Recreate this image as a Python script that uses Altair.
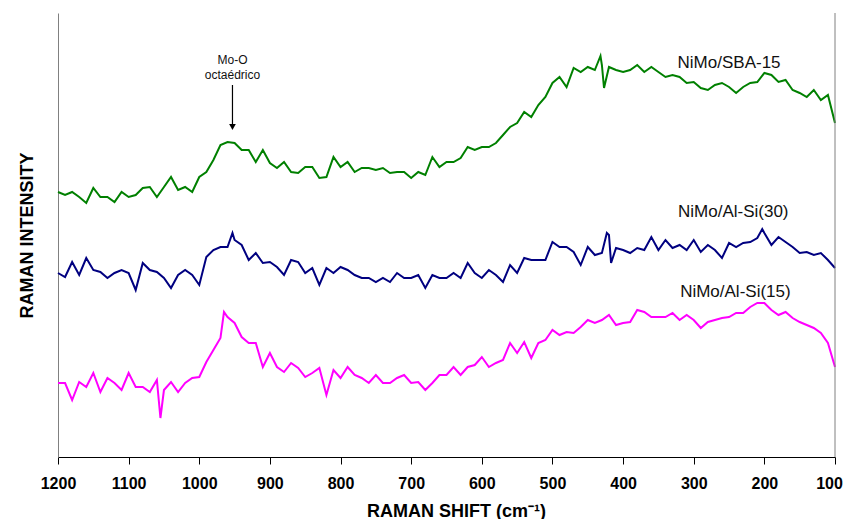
import altair as alt
import pandas as pd

# Raman shift positions (cm-1), every 10 from 1200 down to 100
shift = list(range(1200, 99, -10))

sba15 = [266, 263, 266, 261, 255, 270, 261, 261, 256, 266,
         261, 263, 270, 271, 261, 271, 281, 268, 271, 266,
         281, 286, 298, 313, 316, 315, 308, 308, 296, 308,
         295, 290, 296, 286, 285, 291, 291, 280, 281, 301,
         291, 296, 286, 290, 290, 288, 290, 285, 286, 286,
         280, 286, 283, 301, 291, 296, 296,
         300, 311, 308, 311, 311, 315, 323, 331, 335, 346,
         341, 353, 361, 375, 381, 371, 390, 386, 391, 388,
         393, 391, 388, 386, 388, 393, 386, 391, 386, 381,
         383, 381, 375, 376, 370, 368, 373, 375, 371, 365,
         371, 375, 376, 385, 383, 376, 378, 368, 365, 361,
         368, 358, 363, 335]

alsi30 = [185, 181, 196, 183, 200, 188, 186, 180, 185, 188,
          185, 168, 195, 188, 186, 180, 170, 183, 188, 183,
          173, 201, 208, 211, 211, 218, 213, 198, 205, 195,
          196, 191, 183, 198, 196, 185, 190, 173, 190, 185,
          191, 188, 183, 180, 180, 176, 180, 176, 185, 180,
          180, 183, 170, 183, 180, 180, 185,
          180, 195, 185, 180, 188, 183, 176, 193, 185, 200,
          198, 198, 198, 216, 211, 211, 206, 193, 211, 203,
          205, 223, 210, 208, 205, 210, 208, 221, 208, 218,
          210, 213, 208, 218, 206, 213, 208, 200, 215, 211,
          215, 216, 220, 225, 213, 221, 216, 211, 205, 206,
          203, 205, 198, 190]

alsi15 = [75, 75, 58, 76, 71, 85, 66, 80, 75, 68,
          85, 71, 71, 66, 78, 68, 76, 66, 75, 80,
          81, 96, 108, 120, 141, 135, 121, 115, 115, 91,
          105, 91, 86, 95, 90, 81, 85, 90, 63, 88,
          80, 91, 83, 80, 75, 83, 75, 75, 80, 83,
          75, 76, 68, 75, 83, 83, 91,
          83, 91, 93, 101, 91, 95, 98, 115, 105, 116,
          100, 115, 118, 128, 123, 126, 125, 131, 138, 135,
          138, 143, 133, 135, 136, 148, 146, 141, 141, 141,
          145, 138, 143, 138, 130, 136, 138, 140, 141, 145,
          145, 151, 155, 155, 148, 143, 146, 140, 136, 133,
          130, 125, 115, 91]

# a few sharp spikes read between the 10 cm-1 grid points
sba15_extra_x = [432, 427]
sba15_extra_v = [402, 370]
alsi30_extra_x = [953, 423, 417, 203]
alsi30_extra_v = [225, 225, 195, 229]
alsi15_extra_x = [1055, 965]
alsi15_extra_v = [40, 146]

names = ["NiMo/SBA-15", "NiMo/Al-Si(30)", "NiMo/Al-Si(15)"]
colors = ["#008000", "#000080", "#FF00FF"]

rows = []
for name, vals, ex, ev in [
    (names[0], sba15, sba15_extra_x, sba15_extra_v),
    (names[1], alsi30, alsi30_extra_x, alsi30_extra_v),
    (names[2], alsi15, alsi15_extra_x, alsi15_extra_v),
]:
    for s, v in zip(shift, vals):
        rows.append({"shift": s, "v": v, "series": name})
    for s, v in zip(ex, ev):
        rows.append({"shift": s, "v": v, "series": name})
df = pd.DataFrame(rows)

label_x = [250, 244, 241]
label_v = [395, 246, 166]
labels = pd.DataFrame({"shift": label_x, "v": label_v, "text": names})

annot = pd.DataFrame({"shift": [953, 953], "v": [398, 383], "text": ["Mo-O", "octaédrico"]})
arrow = pd.DataFrame({"shift": [953], "v": [373], "v2": [334]})
head = pd.DataFrame({"shift": [953], "v": [331]})
border = pd.DataFrame({"shift": [100]})

FONT = "Liberation Sans"

xscale = alt.Scale(domain=[100, 1200], reverse=True, nice=False, zero=False)
yscale = alt.Scale(domain=[1, 445], nice=False, zero=False)

xaxis = alt.Axis(
    values=list(range(100, 1201, 100)), format="d", grid=False,
    labelFont=FONT, labelFontSize=16, labelFontWeight="bold", labelColor="black",
    labelFlush=False, labelPadding=11,
    labelOffset={"condition": {"test": "datum.value == 100", "value": -6}, "value": 0},
    tickColor="black", tickSize=7, domainColor="black", domainWidth=1,
    title="RAMAN SHIFT (cm⁻¹)", titleFont=FONT, titleFontSize=18,
    titleFontWeight="bold", titleColor="black",
    titleBaseline="middle", titleY=54, titleX=398,
)
yaxis = alt.Axis(
    labels=False, ticks=False, grid=False, domainColor="#808080", domainWidth=1,
    title="RAMAN INTENSITY", titleFont=FONT, titleFontSize=18,
    titleFontWeight="bold", titleColor="black", titleAngle=270,
    titleAlign="center", titleBaseline="middle", titleX=-31, titleY=222,
)

lines = alt.Chart(df).mark_line(strokeWidth=2).encode(
    x=alt.X("shift:Q", scale=xscale, axis=xaxis),
    y=alt.Y("v:Q", scale=yscale, axis=yaxis),
    color=alt.Color("series:N", scale=alt.Scale(domain=names, range=colors), legend=None),
    order=alt.Order("shift:Q"),
)

right = alt.Chart(border).mark_rule(color="#808080", strokeWidth=1).encode(x="shift:Q")

lab = alt.Chart(labels).mark_text(font=FONT, fontSize=17, color="#111111").encode(
    x="shift:Q", y="v:Q", text="text:N")

ann = alt.Chart(annot).mark_text(font=FONT, fontSize=12, color="#111111").encode(
    x="shift:Q", y="v:Q", text="text:N")

arr = alt.Chart(arrow).mark_rule(color="black", strokeWidth=1.2).encode(
    x="shift:Q", y="v:Q", y2="v2:Q")

hd = alt.Chart(head).mark_point(shape="triangle-down", filled=True, color="black",
                                size=45, opacity=1).encode(x="shift:Q", y="v:Q")

chart = alt.layer(lines, right, lab, ann, arr, hd).properties(
    width=777, height=444,
    autosize="none",
    padding={"left": 50, "top": 5, "right": 8, "bottom": 62},
).configure_view(stroke=None)

chart.save("out.html", embed_options={"renderer": "svg", "actions": False})
